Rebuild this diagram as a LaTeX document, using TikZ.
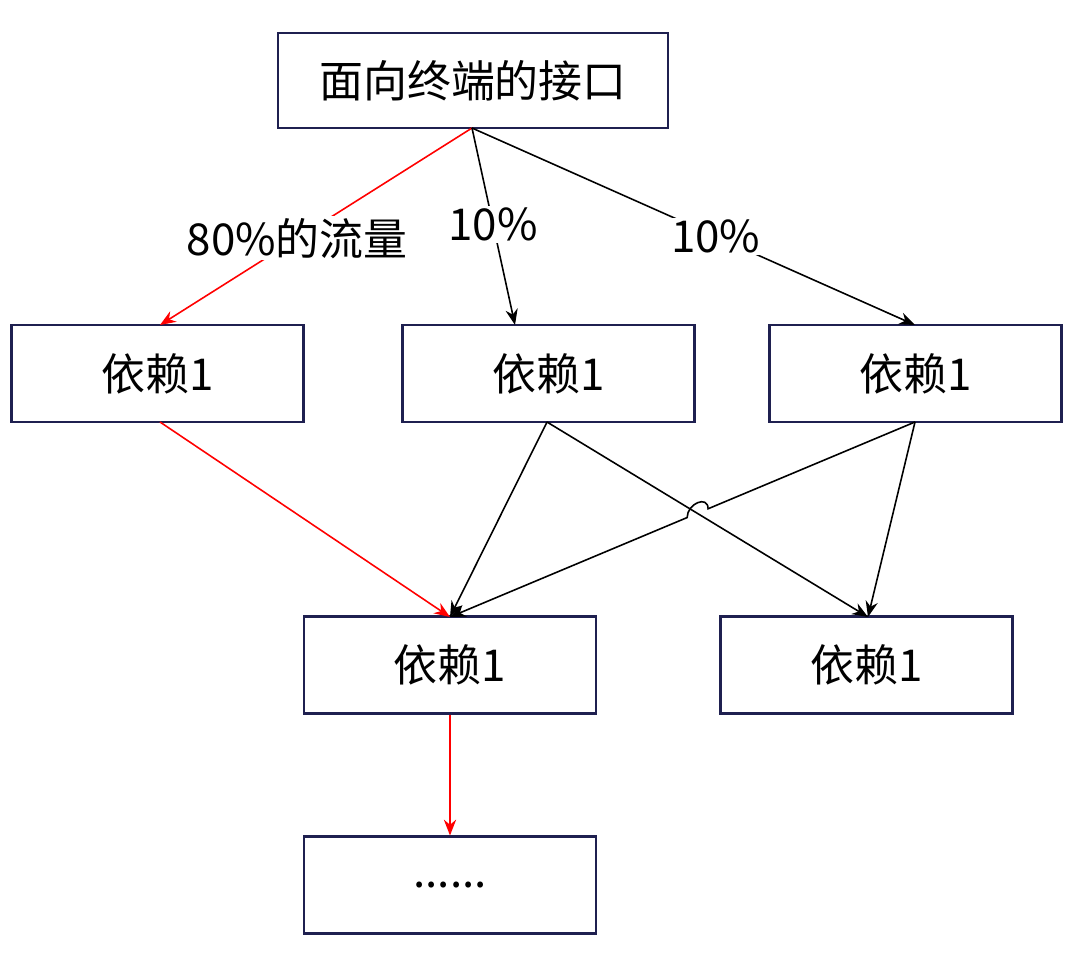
\documentclass[tikz,border=0pt]{standalone}
\usepackage{fontspec}
\setmainfont{Noto Sans CJK SC}
\usetikzlibrary{calc,arrows.meta}
\definecolor{bx}{HTML}{1F2050}
\begin{document}
\begin{tikzpicture}[x=0.02cm,y=-0.02cm,
  box/.style={draw=bx,line width=1.2pt,minimum width=5.84cm,minimum height=1.94cm,inner sep=0pt,font=\fontsize{25}{30}\selectfont},
  ar/.style={-{Stealth[length=9pt,width=7pt]},line width=0.9pt},
  lab/.style={fill=white,text=black,inner sep=1pt,font=\fontsize{25}{30}\selectfont}]
\useasboundingbox (0,0) rectangle (1080,954);
\fill[white] (0,0) rectangle (1080,954);
\node[box,minimum width=7.8cm,minimum height=1.9cm] (top) at (473,80.5) {面向终端的接口};
\node[box] (a) at (157.5,373.5) {依赖1};
\node[box] (b) at (548.5,373.5) {依赖1};
\node[box] (c) at (915.5,373.5) {依赖1};
\node[box] (d) at (450,665) {依赖1};
\node[box] (e) at (866.5,665) {依赖1};
\node[box] (f) at (450,885) {......};
\coordinate (ts) at (472,128);
\coordinate (at) at (160,325);
\coordinate (bt) at (515,325);
\coordinate (ct) at (915,325);
\coordinate (ab) at (160,422);
\coordinate (bb) at (547,422);
\coordinate (cb) at (915,422);
\coordinate (dt) at (450,617);
\coordinate (et) at (868,617);
\draw[ar,red] (ts) -- node[lab,pos=0.56] {80\%的流量} (at);
\draw[ar] (ts) -- node[lab,pos=0.49] {10\%} (bt);
\draw[ar] (ts) -- node[lab,pos=0.55] {10\%} (ct);
\draw[ar,red] (ab) -- (dt);
\draw[ar] (bb) -- (dt);
\draw[ar] (bb) -- (et);
\draw[ar] (cb) -- (et);
\coordinate (h1) at ($(cb)!0.445!(dt)$);
\coordinate (h2) at ($(cb)!0.49!(dt)$);
\draw[ar] (cb) -- (h1) .. controls ($(h1)+(0,-14)$) and ($(h2)+(0,-14)$) .. (h2) -- (dt);
\draw[ar,red] (d.south) -- (f.north);
\end{tikzpicture}
\end{document}
